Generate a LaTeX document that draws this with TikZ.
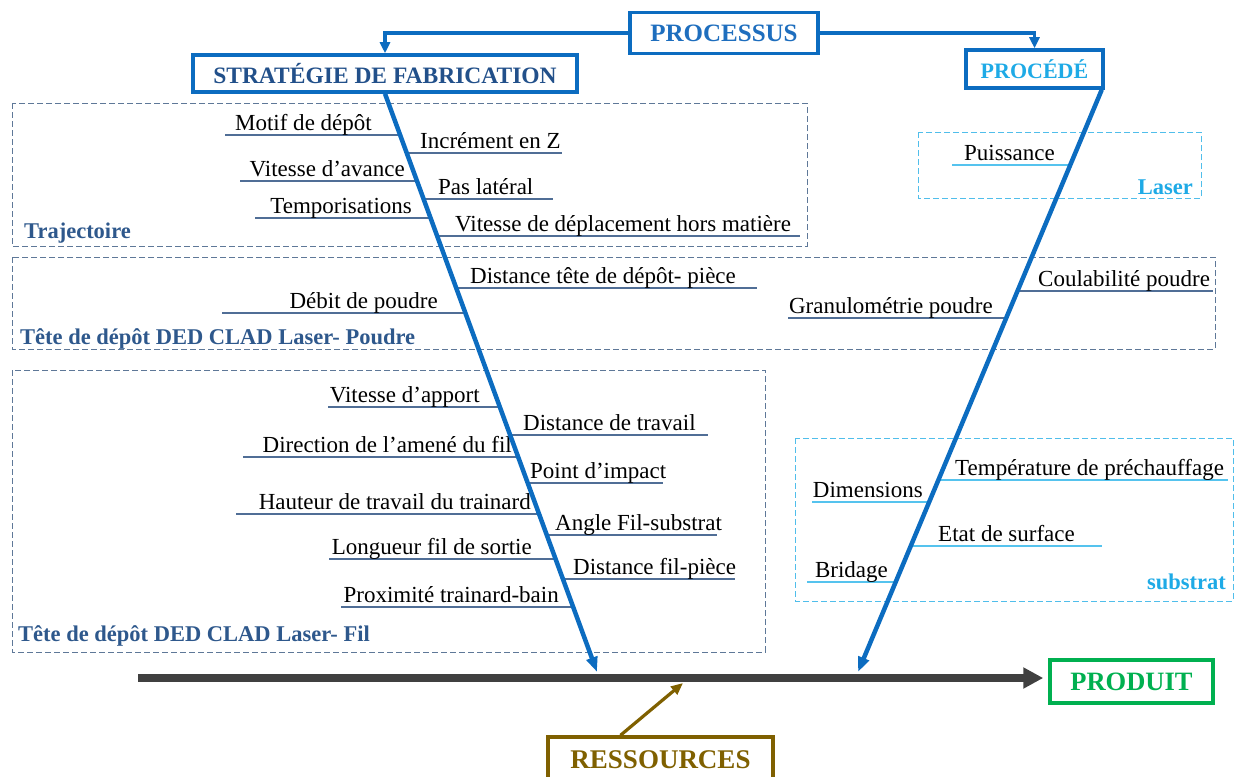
\documentclass[tikz,border=0pt]{standalone}
\usepackage{fontspec}
\setmainfont{Liberation Serif}
\usetikzlibrary{arrows.meta,calc,positioning}
\definecolor{boneblue}{RGB}{12,108,192}
\definecolor{procblue}{RGB}{30,110,190}
\definecolor{stratblue}{RGB}{34,80,138}
\definecolor{lightblue}{RGB}{30,170,230}
\definecolor{greyblue}{RGB}{94,120,152}
\definecolor{lblblue}{RGB}{46,88,140}
\definecolor{linegrey}{RGB}{80,110,150}
\definecolor{linelight}{RGB}{85,195,238}
\definecolor{boxlight}{RGB}{80,190,235}
\definecolor{spinegrey}{RGB}{64,64,64}
\definecolor{prodgreen}{RGB}{0,176,80}
\definecolor{ressbrown}{RGB}{127,96,0}
\tikzset{
  txt/.style={font=\fontsize{23}{26}\selectfont, inner sep=0pt},
  lbl/.style={font=\fontsize{22.5}{26}\selectfont\bfseries, inner sep=0pt},
  titlebox/.style={draw=boneblue, line width=3.5pt, font=\fontsize{23.5}{26}\selectfont\bfseries, inner sep=0pt},
  dashbox/.style={draw=greyblue, line width=1pt, dash pattern=on 6pt off 3pt},
  lightbox/.style={draw=boxlight, line width=1pt, dash pattern=on 6pt off 3pt},
  bone/.style={draw=boneblue, line width=4.5pt, -{Triangle[length=15pt,width=11pt]}},
  feed/.style={draw=boneblue, line width=3.2pt, -{Triangle[length=11pt,width=10pt]}},
  branch/.style={line width=1.4pt},
}
\begin{document}
\begin{tikzpicture}[x=1pt,y=-1pt]
\useasboundingbox (0,0) rectangle (1236,776);

% dashed groups
\draw[dashbox] (12,103) rectangle (807,246);
\node[lbl, text=lblblue, anchor=base west] (trajlbl) at (24,238) {Trajectoire};
\draw[dashbox] (12,257) rectangle (1215,349);
\node[lbl, text=lblblue, anchor=base west] (poudrelbl) at (20,344) {Tête de dépôt DED CLAD Laser- Poudre};
\draw[dashbox] (12,370) rectangle (765,652);
\node[lbl, text=lblblue, anchor=base west] (fillbl) at (18,641) {Tête de dépôt DED CLAD Laser- Fil};
\draw[lightbox] (918,132) rectangle (1201,198);
\node[lbl, text=lightblue, anchor=base east] (laserlbl) at (1193,194) {Laser};
\draw[lightbox] (795,438) rectangle (1233,601);
\node[lbl, text=lightblue, anchor=base east] (substratlbl) at (1226,589) {substrat};

% title boxes
\node[titlebox, text=procblue, minimum width=188pt, minimum height=41pt, font=\fontsize{25}{26}\selectfont\bfseries] (processus) at (724,33) {PROCESSUS};
\node[titlebox, text=stratblue, minimum width=384pt, minimum height=37pt] (strat) at (385,73.5) {STRATÉGIE DE FABRICATION};
\node[titlebox, text=lightblue, minimum width=137pt, minimum height=38pt, font=\fontsize{22}{26}\selectfont\bfseries] (proc) at (1034.5,69) {PROCÉDÉ};
\node[titlebox, draw=prodgreen, text=prodgreen, minimum width=163pt, minimum height=43pt, font=\fontsize{26.5}{28}\selectfont\bfseries] (produit) at (1131.5,681.5) {PRODUIT};
\node[titlebox, draw=ressbrown, text=ressbrown, minimum width=225pt, minimum height=46pt, font=\fontsize{27}{28}\selectfont\bfseries] (ress) at (660.5,760) {RESSOURCES};

\draw[feed] (processus.west) -| (strat.north);
\draw[feed] (processus.east) -| (proc.north);

% main spine
\coordinate (tail) at (138,678);
\draw[draw=spinegrey, line width=8pt, -{Triangle[length=20pt,width=20pt]}, shorten >=5pt] (tail) -- (tail -| produit.west);
\coordinate (ressin) at (683,683);
\draw[draw=ressbrown, line width=3.2pt, -{Triangle[length=12pt,width=10pt]}] ($(ress.north)+(-40,0)$) -- (ressin);

% bones
\coordinate (Ltop) at (strat.south);
\coordinate (Ltip) at (597,672);
\coordinate (Rtop) at ($(proc.south east)+(-3,0)$);
\coordinate (Rtip) at (858,672);

% left bone, causes on the left
\foreach \y/\far/\tx/\txt [count=\i] in {135/225/372/Motif de dépôt, 181/240/405/Vitesse d’avance,
  218/255/412/Temporisations, 313/222/438/Débit de poudre, 407/328/480/Vitesse d’apport,
  457/243/512/Direction de l’amené du fil, 514/236/531/Hauteur de travail du trainard,
  559/329/532/Longueur fil de sortie, 607/341/559/Proximité trainard-bain}{
  \pgfmathsetmacro\bx{385+(\y-92)*0.36552}
  \coordinate (bla\i) at (\bx,\y);
  \coordinate (fla\i) at (\far,\y);
  \draw[branch, linegrey] (fla\i) -- (bla\i);
  \node[txt, anchor=base east] (tla\i) at (\tx,\y-5) {\txt};
}
% left bone, causes on the right
\foreach \y/\far/\tx/\txt [count=\i] in {153/562/420/Incrément en Z, 199/553/438/Pas latéral,
  236/800/455/Vitesse de déplacement hors matière, 288/757/470/Distance tête de dépôt- pièce,
  435/708/523/Distance de travail, 483/663/530/Point d’impact, 535/717/555/Angle Fil-substrat,
  579/735/573/Distance fil-pièce}{
  \pgfmathsetmacro\bx{385+(\y-92)*0.36552}
  \coordinate (blb\i) at (\bx,\y);
  \coordinate (flb\i) at (\far,\y);
  \draw[branch, linegrey] (blb\i) -- (flb\i);
  \node[txt, anchor=base west] (tlb\i) at (\tx,\y-5) {\txt};
}
% right bone, causes on the left
\foreach \y/\far/\tx/\col/\txt [count=\i] in {165/952/1055/linelight/Puissance,
  318/788/993/linegrey/Granulométrie poudre, 502/812/923/linelight/Dimensions,
  582/807/888/linelight/Bridage}{
  \pgfmathsetmacro\bx{1100-(\y-88)*0.41438}
  \coordinate (bra\i) at (\bx,\y);
  \coordinate (fra\i) at (\far,\y);
  \draw[branch, \col] (fra\i) -- (bra\i);
  \node[txt, anchor=base east] (tra\i) at (\tx,\y-5) {\txt};
}
% right bone, causes on the right
\foreach \y/\far/\tx/\col/\txt [count=\i] in {291/1213/1038/linegrey/Coulabilité poudre,
  480/1228/955/linelight/Température de préchauffage, 546/1102/938/linelight/Etat de surface}{
  \pgfmathsetmacro\bx{1100-(\y-88)*0.41438}
  \coordinate (brb\i) at (\bx,\y);
  \coordinate (frb\i) at (\far,\y);
  \draw[branch, \col] (brb\i) -- (frb\i);
  \node[txt, anchor=base west] (trb\i) at (\tx,\y-5) {\txt};
}

\draw[bone] (Ltop) -- (Ltip);
\draw[bone] (Rtop) -- (Rtip);
\end{tikzpicture}
\end{document}
